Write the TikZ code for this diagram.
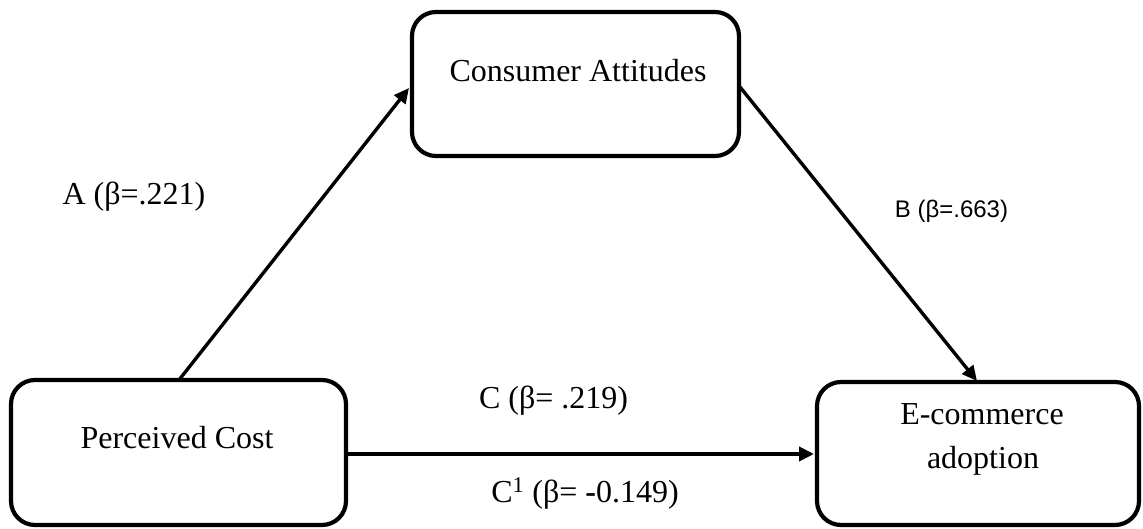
\documentclass[tikz,border=0pt]{standalone}
\usepackage{fontspec}
\setmainfont{Liberation Serif}
\newfontfamily\sansb{Liberation Sans}
\usetikzlibrary{arrows.meta}
\begin{document}
\begin{tikzpicture}[x=1pt,y=-1pt,
  box/.style={draw=black,line width=4.2pt,rounded corners=24pt,inner sep=0pt},
  txt/.style={font=\fontsize{32}{40}\selectfont,inner sep=0pt,anchor=base},
  arr/.style={line width=3.4pt,-{Triangle[length=15pt,width=14pt]}}]
\useasboundingbox (0,0) rectangle (1143,529);
\node[box,minimum width=327pt,minimum height=144pt] (ca) at (575.5,84) {};
\node[box,minimum width=335pt,minimum height=145pt] (pc) at (178.5,452.5) {};
\node[box,minimum width=322pt,minimum height=143pt] (ec) at (978,453.5) {};
\node[txt] (cat) at (578,82) {Consumer Attitudes};
\node[txt] (pct) at (177,448) {Perceived Cost};
\node[txt] (ect1) at (982,424) {E-commerce};
\node[txt] (ect2) at (983,468) {adoption};
\coordinate (a0) at (179,380);
\coordinate (a1) at (409,88);
\coordinate (b0) at (740,87);
\coordinate (b1) at (977,381);
\coordinate (c0) at (346,454);
\coordinate (c1) at (814,454);
\draw[arr] (a0) -- (a1);
\draw[arr] (b0) -- (b1);
\draw[arr,line width=4.3pt] (c0) -- (c1);
\node[txt] (la) at (134,205) {A (β=.221)};
\node[font=\sansb\fontsize{24}{28}\selectfont,inner sep=0pt,anchor=base] (lb) at (951.5,218) {B (β=.663)};
\node[txt] (lc) at (553.5,408) {C (β= .219)};
\node[txt] (lc1) at (585,502) {C\textsuperscript{1} (β= \textbf{-}0.149)};
\end{tikzpicture}
\end{document}
